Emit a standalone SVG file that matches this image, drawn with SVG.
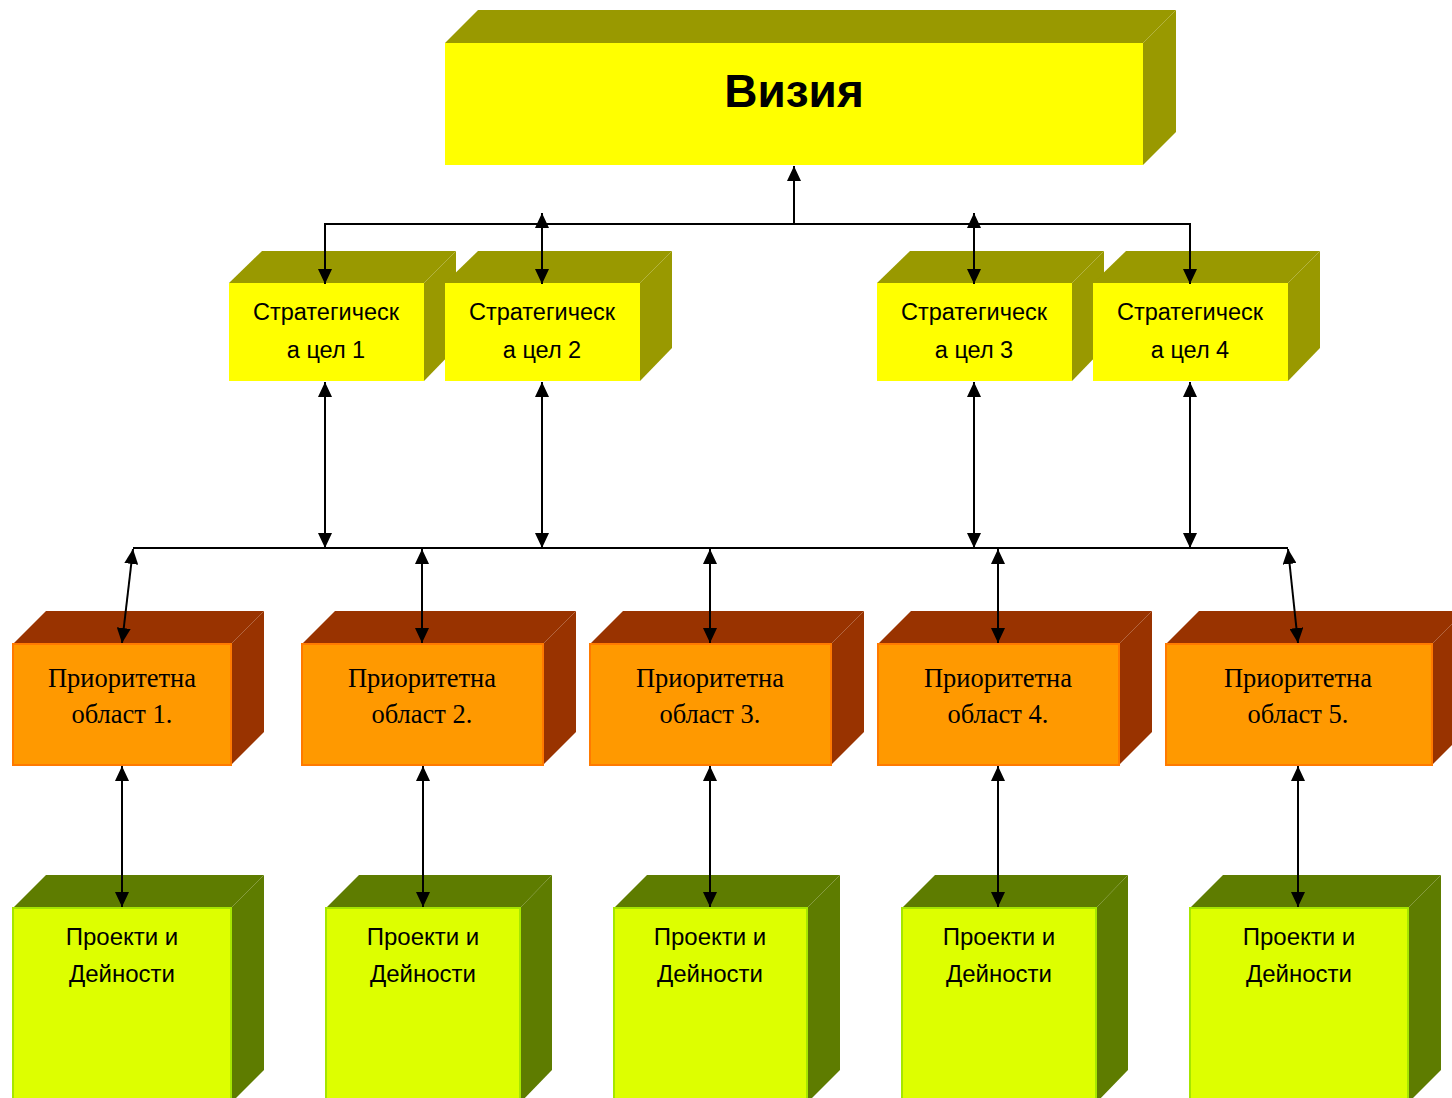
<svg xmlns="http://www.w3.org/2000/svg" width="1452" height="1098" viewBox="0 0 1452 1098">
<defs>
<marker id="ah" viewBox="0 0 15 14" refX="15" refY="7" markerWidth="15" markerHeight="14" markerUnits="userSpaceOnUse" orient="auto-start-reverse">
<path d="M0,0 L15,7 L0,14 z" fill="#000"/>
</marker>
</defs>
<style>
.yf{fill:#FFFF00}
.ys{fill:#999900}
.of{fill:#FF9900;stroke:#FF7A00;stroke-width:2}
.os{fill:#993300}
.gf{fill:#DDFF00;stroke:#A6E600;stroke-width:2}
.gs{fill:#5E7C00}
.sans{font-family:"Liberation Sans","Open Sans",sans-serif;fill:#000;text-anchor:middle}
.serif{font-family:"Liberation Serif","DejaVu Serif",serif;fill:#000;text-anchor:middle}
.c{fill:none;stroke:#000;stroke-width:2}
</style>
<rect width="1452" height="1098" fill="#fff"/>

<g id="vision">
<polygon class="ys" points="445,43 478,10 1176,10 1143,43"/>
<polygon class="ys" points="1143,43 1176,10 1176,132 1143,165"/>
<rect class="yf" x="445" y="43" width="698" height="122"/>
<text class="sans" x="794" y="107" font-size="46" font-weight="bold">Визия</text>
</g>

<g id="goal1">
<polygon class="ys" points="229,283 262,251 456,251 424,283"/>
<polygon class="ys" points="424,283 456,251 456,348 424,381"/>
<rect class="yf" x="229" y="283" width="195" height="98"/>
<text class="sans" x="326" y="320" font-size="23.5">Стратегическ</text>
<text class="sans" x="326" y="358" font-size="23.5">а цел 1</text>
</g>
<g id="goal2">
<polygon class="ys" points="445,283 478,251 672,251 640,283"/>
<polygon class="ys" points="640,283 672,251 672,348 640,381"/>
<rect class="yf" x="445" y="283" width="195" height="98"/>
<text class="sans" x="542" y="320" font-size="23.5">Стратегическ</text>
<text class="sans" x="542" y="358" font-size="23.5">а цел 2</text>
</g>
<g id="goal3">
<polygon class="ys" points="877,283 910,251 1104,251 1072,283"/>
<polygon class="ys" points="1072,283 1104,251 1104,348 1072,381"/>
<rect class="yf" x="877" y="283" width="195" height="98"/>
<text class="sans" x="974" y="320" font-size="23.5">Стратегическ</text>
<text class="sans" x="974" y="358" font-size="23.5">а цел 3</text>
</g>
<g id="goal4">
<polygon class="ys" points="1093,283 1126,251 1320,251 1288,283"/>
<polygon class="ys" points="1288,283 1320,251 1320,348 1288,381"/>
<rect class="yf" x="1093" y="283" width="195" height="98"/>
<text class="sans" x="1190" y="320" font-size="23.5">Стратегическ</text>
<text class="sans" x="1190" y="358" font-size="23.5">а цел 4</text>
</g>

<g id="area1">
<polygon class="os" points="13,644 46,611 264,611 231,644"/>
<polygon class="os" points="231,644 264,611 264,732 231,765"/>
<rect class="of" x="13" y="644" width="218" height="121"/>
<text class="serif" x="122" y="687" font-size="26.5">Приоритетна</text>
<text class="serif" x="122" y="723" font-size="26.5">област 1.</text>
</g>
<g id="area2">
<polygon class="os" points="302,644 335,611 576,611 543,644"/>
<polygon class="os" points="543,644 576,611 576,732 543,765"/>
<rect class="of" x="302" y="644" width="241" height="121"/>
<text class="serif" x="422" y="687" font-size="26.5">Приоритетна</text>
<text class="serif" x="422" y="723" font-size="26.5">област 2.</text>
</g>
<g id="area3">
<polygon class="os" points="590,644 623,611 864,611 831,644"/>
<polygon class="os" points="831,644 864,611 864,732 831,765"/>
<rect class="of" x="590" y="644" width="241" height="121"/>
<text class="serif" x="710" y="687" font-size="26.5">Приоритетна</text>
<text class="serif" x="710" y="723" font-size="26.5">област 3.</text>
</g>
<g id="area4">
<polygon class="os" points="878,644 911,611 1152,611 1119,644"/>
<polygon class="os" points="1119,644 1152,611 1152,732 1119,765"/>
<rect class="of" x="878" y="644" width="241" height="121"/>
<text class="serif" x="998" y="687" font-size="26.5">Приоритетна</text>
<text class="serif" x="998" y="723" font-size="26.5">област 4.</text>
</g>
<g id="area5">
<polygon class="os" points="1166,644 1199,611 1465,611 1432,644"/>
<polygon class="os" points="1432,644 1465,611 1465,732 1432,765"/>
<rect class="of" x="1166" y="644" width="266" height="121"/>
<text class="serif" x="1298" y="687" font-size="26.5">Приоритетна</text>
<text class="serif" x="1298" y="723" font-size="26.5">област 5.</text>
</g>

<g id="proj1">
<polygon class="gs" points="13,908 46,875 264,875 231,908"/>
<polygon class="gs" points="231,908 264,875 264,1070 231,1103"/>
<rect class="gf" x="13" y="908" width="218" height="200"/>
<text class="sans" x="122" y="945" font-size="24">Проекти и</text>
<text class="sans" x="122" y="982" font-size="24">Дейности</text>
</g>
<g id="proj2">
<polygon class="gs" points="326,908 359,875 552,875 520,908"/>
<polygon class="gs" points="520,908 552,875 552,1070 520,1103"/>
<rect class="gf" x="326" y="908" width="194" height="200"/>
<text class="sans" x="423" y="945" font-size="24">Проекти и</text>
<text class="sans" x="423" y="982" font-size="24">Дейности</text>
</g>
<g id="proj3">
<polygon class="gs" points="614,908 647,875 840,875 807,908"/>
<polygon class="gs" points="807,908 840,875 840,1070 807,1103"/>
<rect class="gf" x="614" y="908" width="193" height="200"/>
<text class="sans" x="710" y="945" font-size="24">Проекти и</text>
<text class="sans" x="710" y="982" font-size="24">Дейности</text>
</g>
<g id="proj4">
<polygon class="gs" points="902,908 935,875 1128,875 1096,908"/>
<polygon class="gs" points="1096,908 1128,875 1128,1070 1096,1103"/>
<rect class="gf" x="902" y="908" width="194" height="200"/>
<text class="sans" x="999" y="945" font-size="24">Проекти и</text>
<text class="sans" x="999" y="982" font-size="24">Дейности</text>
</g>
<g id="proj5">
<polygon class="gs" points="1190,908 1223,875 1441,875 1408,908"/>
<polygon class="gs" points="1408,908 1441,875 1441,1070 1408,1103"/>
<rect class="gf" x="1190" y="908" width="218" height="200"/>
<text class="sans" x="1299" y="945" font-size="24">Проекти и</text>
<text class="sans" x="1299" y="982" font-size="24">Дейности</text>
</g>

<g id="connectors">
<line class="c" x1="794" y1="224" x2="794" y2="166" marker-end="url(#ah)"/>
<polyline class="c" points="325,284 325,224 1190,224 1190,284" marker-start="url(#ah)" marker-end="url(#ah)"/>
<line class="c" x1="542" y1="213" x2="542" y2="284" marker-start="url(#ah)" marker-end="url(#ah)"/>
<line class="c" x1="974" y1="213" x2="974" y2="284" marker-start="url(#ah)" marker-end="url(#ah)"/>

<line class="c" x1="325" y1="382" x2="325" y2="548" marker-start="url(#ah)" marker-end="url(#ah)"/>
<line class="c" x1="542" y1="382" x2="542" y2="548" marker-start="url(#ah)" marker-end="url(#ah)"/>
<line class="c" x1="974" y1="382" x2="974" y2="548" marker-start="url(#ah)" marker-end="url(#ah)"/>
<line class="c" x1="1190" y1="382" x2="1190" y2="548" marker-start="url(#ah)" marker-end="url(#ah)"/>

<line class="c" x1="133" y1="548" x2="1288" y2="548"/>

<line class="c" x1="133" y1="549" x2="122" y2="643" marker-start="url(#ah)" marker-end="url(#ah)"/>
<line class="c" x1="422" y1="549" x2="422" y2="643" marker-start="url(#ah)" marker-end="url(#ah)"/>
<line class="c" x1="710" y1="549" x2="710" y2="643" marker-start="url(#ah)" marker-end="url(#ah)"/>
<line class="c" x1="998" y1="549" x2="998" y2="643" marker-start="url(#ah)" marker-end="url(#ah)"/>
<line class="c" x1="1288" y1="549" x2="1298" y2="643" marker-start="url(#ah)" marker-end="url(#ah)"/>

<line class="c" x1="122" y1="766" x2="122" y2="907" marker-start="url(#ah)" marker-end="url(#ah)"/>
<line class="c" x1="423" y1="766" x2="423" y2="907" marker-start="url(#ah)" marker-end="url(#ah)"/>
<line class="c" x1="710" y1="766" x2="710" y2="907" marker-start="url(#ah)" marker-end="url(#ah)"/>
<line class="c" x1="998" y1="766" x2="998" y2="907" marker-start="url(#ah)" marker-end="url(#ah)"/>
<line class="c" x1="1298" y1="766" x2="1298" y2="907" marker-start="url(#ah)" marker-end="url(#ah)"/>
</g>
</svg>
